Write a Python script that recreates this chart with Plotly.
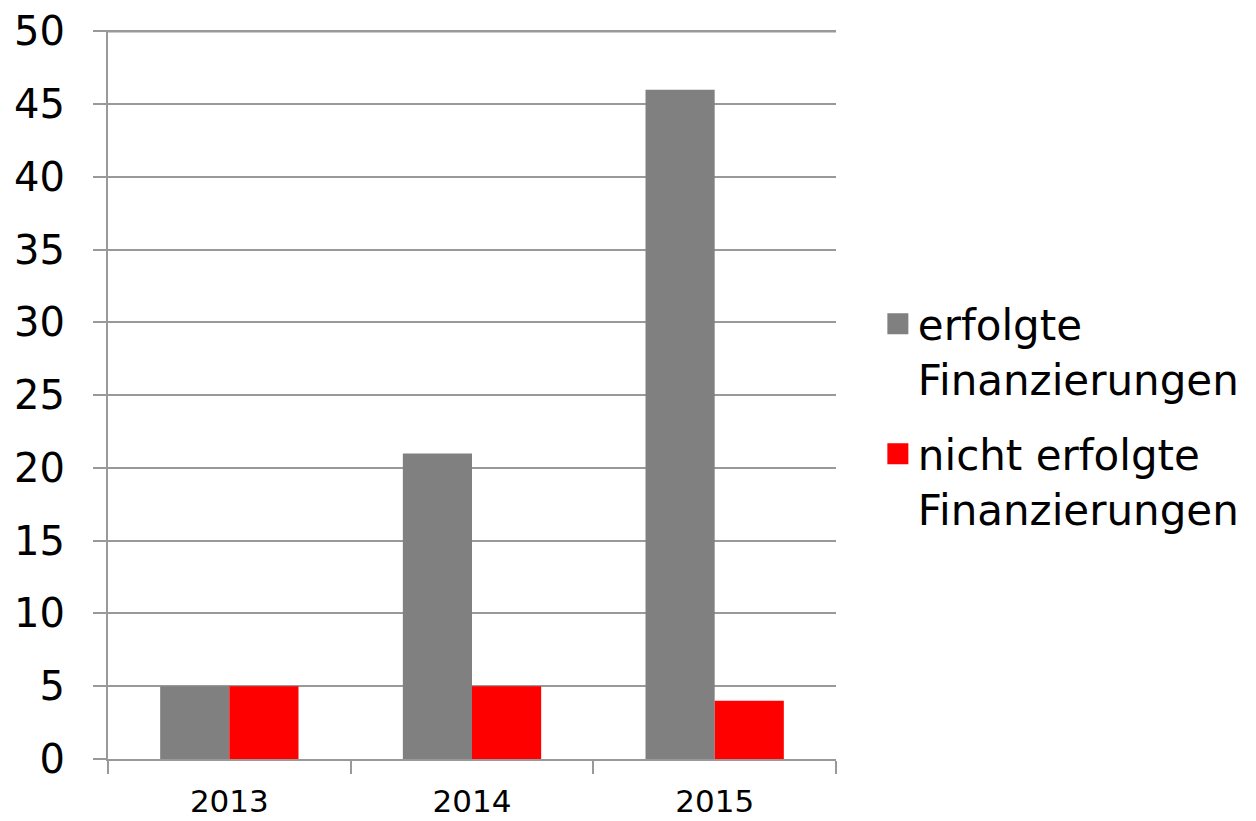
import plotly.graph_objects as go

years = ["2013", "2014", "2015"]
erfolgte = [5, 21, 46]
nicht_erfolgte = [5, 5, 4]
series_names = ["erfolgte<br>Finanzierungen", "nicht erfolgte<br>Finanzierungen"]
series_colors = ["#808080", "#FF0000"]
y_ticks = [0, 5, 10, 15, 20, 25, 30, 35, 40, 45, 50]

FONT = "DejaVu Sans"
GRID = "#999999"

fig = go.Figure()
for vals, name, col in zip([erfolgte, nicht_erfolgte], series_names, series_colors):
    fig.add_trace(go.Bar(x=years, y=vals, name=name, showlegend=False,
                         marker=dict(color=col, line=dict(width=0))))
# legend proxies with larger square symbols
for name, col in zip(series_names, series_colors):
    fig.add_trace(go.Scatter(x=[None], y=[None], mode="markers", name=name, legendgroup=name,
                             marker=dict(symbol="square", size=16, color=col,
                                         line=dict(color=col, width=5))))

# top gridline (plotly drops the grid line lying on the plot edge)
fig.add_hline(y=y_ticks[-1], line=dict(color=GRID, width=2), layer="below")

fig.update_layout(
    width=1248, height=813,
    margin=dict(l=100, r=418, t=22, b=62),
    paper_bgcolor="white", plot_bgcolor="white",
    barmode="group", bargap=0.43, bargroupgap=0,
    font=dict(family=FONT, color="black"),
    legend=dict(x=1.0575, xanchor="left", y=0.47, yanchor="middle",
                font=dict(size=42, family=FONT, color="black"),
                tracegroupgap=18, valign="top"),
    xaxis=dict(showline=True, linecolor=GRID, linewidth=2, automargin=False,
               ticks="outside", ticklen=13, tickcolor=GRID, tickwidth=2,
               tickson="boundaries", tickfont=dict(size=31, family=FONT),
               ticklabelstandoff=14, showgrid=False),
    yaxis=dict(range=[0, 50.1], tickvals=y_ticks,
               showline=True, linecolor=GRID, linewidth=2,
               automargin=False, ticklabeloverflow="allow",
               ticks="outside", ticklen=13, tickcolor=GRID, tickwidth=2,
               showgrid=True, gridcolor=GRID, gridwidth=2, zeroline=False,
               tickfont=dict(size=40, family=FONT), ticklabelstandoff=20),
)

fig.write_html("out.html")
